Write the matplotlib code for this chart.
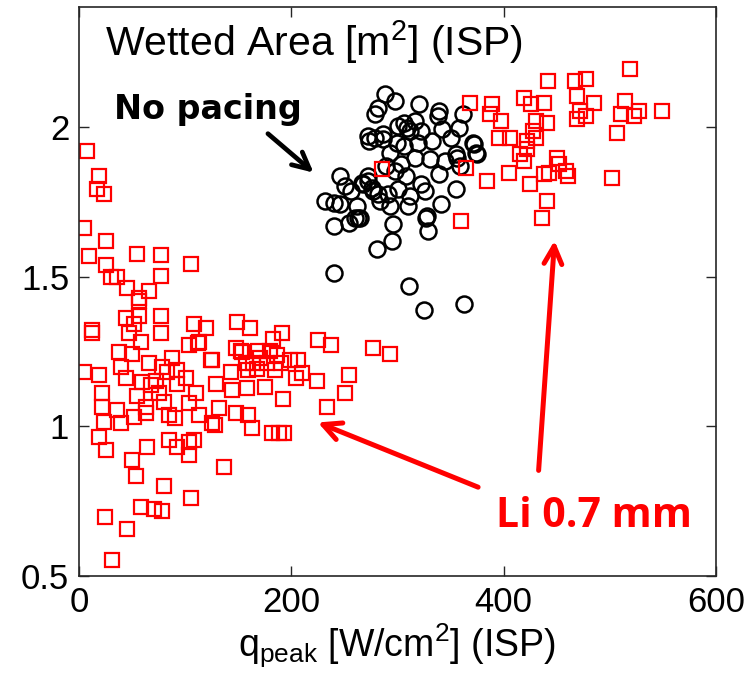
import matplotlib
matplotlib.use('Agg')
import matplotlib.pyplot as plt

plt.rcParams['font.family'] = ['Liberation Sans', 'DejaVu Sans']
plt.rcParams['mathtext.fontset'] = 'custom'
plt.rcParams['mathtext.rm'] = 'Liberation Sans'
plt.rcParams['mathtext.it'] = 'Liberation Sans:italic'

# no pacing (black circles): q_peak [W/cm2], wetted area [m2]
nopace_q = [246, 232, 240, 246, 262, 260, 240, 254, 263, 281, 240, 267, 272, 276, 282,
            273, 279, 288, 286, 282, 320, 339, 338, 306, 301, 309, 312, 322, 342, 358,
            350, 371, 374, 355, 272, 279, 286, 300, 306, 319, 333, 293, 317, 331, 339,
            322, 298, 303, 272, 268, 277, 291, 301, 310, 341, 355, 328, 296, 265, 362,
            372, 375, 356, 327, 329, 311, 325, 363, 295, 256, 251, 284, 293, 312, 326,
            345, 359, 308, 289, 317, 298]
nopace_a = [1.837, 1.753, 1.747, 1.743, 1.737, 1.697, 1.67, 1.68, 1.697, 1.593, 1.513, 1.813,
            1.82, 1.797, 1.777, 1.953, 2.043, 2.11, 1.96, 2.063, 2.077, 2.053, 2.037, 2.013,
            2.003, 1.997, 1.987, 1.987, 1.993, 1.997, 1.963, 1.947, 1.913, 1.91, 1.97, 1.963,
            1.977, 1.947, 1.937, 1.947, 1.953, 1.913, 1.897, 1.893, 1.843, 1.81, 1.853, 1.877,
            1.837, 1.81, 1.787, 1.777, 1.793, 1.737, 1.743, 1.793, 1.703, 1.677, 1.697, 2.043,
            1.943, 1.91, 1.897, 1.697, 1.653, 1.47, 1.39, 1.41, 1.62, 1.787, 1.803, 1.753,
            1.737, 1.77, 1.787, 1.887, 1.87, 1.837, 1.87, 2.02, 2.087]

# Li 0.7 mm (red squares)
li_q = [368, 389, 387, 398, 419, 426, 438, 442, 467, 478, 469, 485, 472, 469, 478,
        519, 514, 511, 523, 528, 549, 507, 441, 431, 428, 431, 422, 415, 422, 419,
        406, 396, 365, 384, 405, 425, 438, 450, 452, 459, 461, 443, 441, 436, 502,
        360, 285,
        7.5, 19, 17, 24, 5, 25.5, 9.4, 55, 77, 106, 25.5, 30, 36, 77, 45, 66, 57,
        44, 57, 77, 12, 108, 120, 149, 52, 57, 12, 47, 77, 58, 38, 50, 66, 40,
        104, 113, 125, 88, 148, 153, 5, 19, 44, 59, 78, 83, 92, 101, 73, 68, 22,
        55, 75, 92, 110, 129, 143, 144, 22, 36, 63, 80, 104, 113, 132, 148, 24,
        40, 52, 63, 85, 90, 125, 19, 25.5, 64, 85, 92, 104, 104, 50, 54, 137, 80,
        106, 58, 71, 78, 24.5, 45, 31,
        161, 183, 191, 225, 237, 277, 293, 154, 169, 180, 187, 171, 124, 112, 157,
        164, 177, 190, 199, 206, 159, 168, 185, 204, 210, 224, 254, 251, 234, 192,
        175, 158, 159, 163, 182, 188, 193, 128, 108]
li_a = [2.08, 2.077, 2.043, 2.02, 2.097, 2.077, 2.08, 2.153, 2.153, 2.16, 2.103, 2.08,
        2.053, 2.027, 2.037, 2.193, 2.087, 2.043, 2.037, 2.053, 2.053, 1.98, 2.013, 2.02,
        1.987, 1.963, 1.953, 1.91, 1.927, 1.887, 1.963, 1.963, 1.863, 1.82, 1.847, 1.81,
        1.843, 1.897, 1.877, 1.853, 1.837, 1.847, 1.753, 1.697, 1.83,
        1.687, 1.86,
        1.92, 1.837, 1.793, 1.777, 1.663, 1.62, 1.57, 1.577, 1.573, 1.543, 1.537, 1.5,
        1.5, 1.503, 1.463, 1.453, 1.43, 1.363, 1.37, 1.37, 1.323, 1.343, 1.33, 1.347,
        1.343, 1.42, 1.313, 1.313, 1.31, 1.28, 1.247, 1.243, 1.21, 1.197,
        1.27, 1.28, 1.22, 1.227, 1.263, 1.253, 1.18, 1.17, 1.163, 1.147, 1.197, 1.18,
        1.187, 1.16, 1.153, 1.137, 1.113, 1.103, 1.11, 1.143, 1.113, 1.143, 1.18, 1.12,
        1.063, 1.053, 1.063, 1.08, 1.077, 1.037, 1.06, 1.043, 1.013, 1.01, 1.03, 1.043,
        1.037, 1.027, 1.01, 0.963, 0.92, 0.93, 0.953, 0.93, 0.947, 0.903, 0.887, 0.833,
        0.863, 0.8, 0.76, 0.73, 0.723, 0.717, 0.697, 0.657, 0.553,
        1.327, 1.293, 1.31, 1.287, 1.27, 1.26, 1.243, 1.247, 1.253, 1.253, 1.237, 1.227,
        1.22, 1.277, 1.21, 1.213, 1.213, 1.213, 1.22, 1.22, 1.187, 1.193, 1.187, 1.163,
        1.177, 1.153, 1.17, 1.113, 1.063, 1.093, 1.13, 1.127, 1.037, 0.993, 0.977, 0.977,
        0.977, 1.003, 0.953]

xticks = [0, 200, 400, 600]
yticks = [0.5, 1, 1.5, 2]
yticklabels = ['0.5', '1', '1.5', '2']

fig = plt.figure(figsize=(7.52, 6.95), dpi=100)
ax = fig.add_axes([0.105, 0.171, 0.847, 0.819])

ax.plot(nopace_q, nopace_a, 'o', ms=11.5, mfc='none', mec='black', mew=1.8, ls='none')
ax.plot(li_q, li_a, 's', ms=10.5, mfc='none', mec='red', mew=1.6, ls='none')

ax.set_xlim(0, 600)
ax.set_ylim(0.5, 2.4)
ax.set_xticks(xticks)
ax.set_yticks(yticks)
ax.set_yticklabels(yticklabels)
ax.tick_params(direction='in', length=7, width=1, labelsize=25, top=True, right=True,
               colors='#262626', labelcolor='black', pad=7)
for s in ax.spines.values():
    s.set_linewidth(1.2)
    s.set_color('#262626')

ax.set_xlabel(r'q$_{\rm peak}$ [W/cm$^2$] (ISP)', fontsize=27, labelpad=2)

ax.text(24.5, 2.237, r'Wetted Area [m$^2$] (ISP)', fontsize=29.5, va='baseline')

ax.text(33, 2.027, 'No pacing', fontsize=24, fontweight='bold',
        family='DejaVu Sans', va='baseline')
ax.annotate('', xy=(221, 1.847), xytext=(178, 1.977),
            arrowprops=dict(arrowstyle='->', lw=3.4, color='black', mutation_scale=30,
                            shrinkA=0, shrinkB=0))

ax.text(393, 0.663, 'Li 0.7 mm', fontsize=29.5, fontweight='bold', family='Open Sans',
        color='red', va='baseline')
ax.annotate('', xy=(225, 1.013), xytext=(376, 0.797),
            arrowprops=dict(arrowstyle='->', lw=3.6, color='red', mutation_scale=32,
                            shrinkA=0, shrinkB=0))
ax.annotate('', xy=(448, 1.62), xytext=(433, 0.853),
            arrowprops=dict(arrowstyle='->', lw=3.6, color='red', mutation_scale=32,
                            shrinkA=0, shrinkB=0))

fig.savefig('out.png', dpi=100)
